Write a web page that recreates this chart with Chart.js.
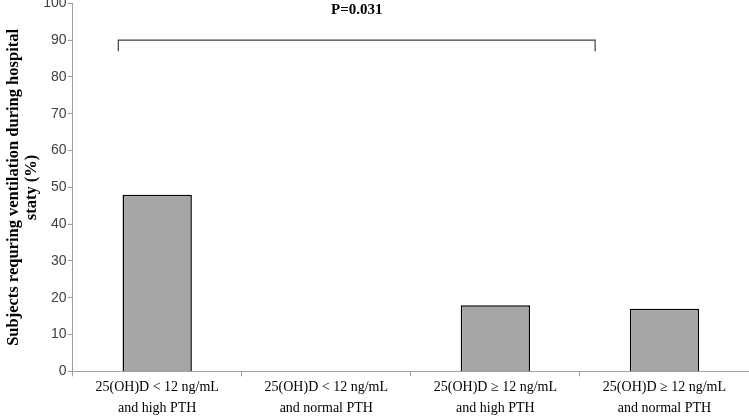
<!DOCTYPE html>
<html>
<head>
<meta charset="utf-8">
<script src="https://cdn.jsdelivr.net/npm/chart.js@4"></script>
<style>
  html, body { margin: 0; padding: 0; background: #fff; overflow: hidden; }
  #wrap { width: 749px; height: 425px; margin-top: -6px; position: relative; }
</style>
</head>
<body>
<div id="wrap"><canvas id="chart"></canvas></div>
<script>
// data
const groups = [
  ["25(OH)D < 12 ng/mL", "and high PTH"],
  ["25(OH)D < 12 ng/mL", "and normal PTH"],
  ["25(OH)D \u2265 12 ng/mL", "and high PTH"],
  ["25(OH)D \u2265 12 ng/mL", "and normal PTH"]
];
const ventilated = [48, 0, 18, 17];
const yTicks = [0, 10, 20, 30, 40, 50, 60, 70, 80, 90, 100];

// significance bracket (category index positions, y value)
const bracketFrom = -0.23;
const bracketTo = 2.59;
const bracketY = 90;
const bracketDrop = 3;
const pLabel = "P=0.031";

const axisGray = "#a0a0a0";

// draws the comparison bracket + p value
const bracketPlugin = {
  id: "bracket",
  afterDatasetsDraw(chart) {
    const { ctx, scales } = chart;
    const x1 = scales.x.getPixelForValue(bracketFrom);
    const x2 = scales.x.getPixelForValue(bracketTo);
    const y = scales.y.getPixelForValue(bracketY);
    const yd = scales.y.getPixelForValue(bracketY - bracketDrop);
    ctx.save();
    ctx.strokeStyle = "#404040";
    ctx.lineWidth = 1.2;
    ctx.beginPath();
    ctx.moveTo(x1, yd);
    ctx.lineTo(x1, y);
    ctx.lineTo(x2, y);
    ctx.lineTo(x2, yd);
    ctx.stroke();
    ctx.fillStyle = "#000";
    ctx.font = "bold 15px 'Liberation Serif', 'Times New Roman', serif";
    ctx.textAlign = "center";
    ctx.textBaseline = "middle";
    ctx.fillText(pLabel, (x1 + x2) / 2, 16);
    ctx.restore();
  }
};

new Chart(document.getElementById("chart"), {
  type: "bar",
  data: {
    labels: groups,
    datasets: [{
      data: ventilated,
      backgroundColor: "#a6a6a6",
      borderColor: "#000",
      borderWidth: 1.5,
      categoryPercentage: 1,
      barPercentage: 0.41
    }]
  },
  options: {
    responsive: true,
    maintainAspectRatio: false,
    animation: false,
    layout: { padding: { top: 0, right: 0, left: 5, bottom: 0 } },
    plugins: {
      legend: { display: false },
      tooltip: { enabled: false }
    },
    scales: {
      x: {
        offset: true,
        grid: {
          display: true,
          drawOnChartArea: false,
          offset: true,
          color: axisGray,
          tickLength: 5
        },
        border: { color: axisGray, width: 1 },
        ticks: {
          color: "#000",
          maxRotation: 0,
          padding: 1,
          font: { family: "'Liberation Serif', 'Times New Roman', serif", size: 14, lineHeight: 1.45 }
        }
      },
      y: {
        min: 0,
        max: 100,
        afterBuildTicks: axis => { axis.ticks = yTicks.map(v => ({ value: v })); },
        grid: {
          display: true,
          drawOnChartArea: false,
          color: axisGray,
          tickLength: 5
        },
        border: { color: axisGray, width: 1 },
        ticks: {
          color: "#404040",
          padding: 1,
          font: { family: "'Liberation Sans', Arial, sans-serif", size: 14 }
        },
        title: {
          display: true,
          text: ["Subjects requring ventilation during hospital", "staty (%)"],
          color: "#000",
          padding: { top: 0, bottom: 1 },
          font: { family: "'Liberation Serif', 'Times New Roman', serif", size: 16.5, weight: "bold", lineHeight: 1.1 }
        }
      }
    }
  },
  plugins: [bracketPlugin]
});
</script>
</body>
</html>
